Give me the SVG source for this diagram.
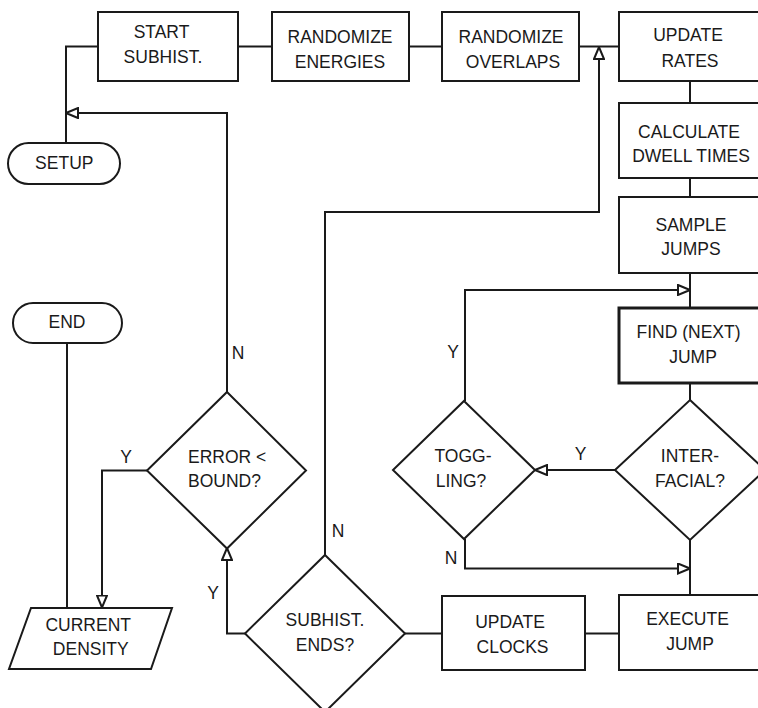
<svg xmlns="http://www.w3.org/2000/svg" width="758" height="708" viewBox="0 0 758 708">
<style>
.s{fill:#fff;stroke:#1a1a1a;stroke-width:2}
.b{stroke-width:3}
.c{fill:none;stroke:#1a1a1a;stroke-width:2}
text{font-family:"Liberation Sans",Arial,sans-serif;font-size:17.5px;fill:#1a1a1a}
.m{text-anchor:middle}
</style>
<defs>
<marker id="ah" viewBox="0 0 14 12" refX="13" refY="6" markerWidth="14" markerHeight="12" markerUnits="userSpaceOnUse" orient="auto">
<path d="M1,1 L13,6 L1,11 Z" fill="#fff" stroke="#1a1a1a" stroke-width="2" stroke-linejoin="miter"/>
</marker>
</defs>
<rect width="758" height="708" fill="#fff"/>
<g id="connectors">
<path class="c" d="M66,143 V46.5 H98"/>
<path class="c" d="M238,46.5 H272"/>
<path class="c" d="M409,46.5 H442"/>
<path class="c" d="M579,46.5 H619"/>
<path class="c" d="M690,81 V103"/>
<path class="c" d="M690,178 V197"/>
<path class="c" d="M690,273 V308"/>
<path class="c" d="M690,383 V400"/>
<path class="c" d="M690,540 V595"/>
<path class="c" d="M619,633.5 H585"/>
<path class="c" d="M442,633.5 H405"/>
<path class="c" d="M67,343 V608"/>
<path class="c" d="M227,392 V113 H66" marker-end="url(#ah)"/>
<path class="c" d="M325,555 V212 H599 V47" marker-end="url(#ah)"/>
<path class="c" d="M465,401 V290 H690" marker-end="url(#ah)"/>
<path class="c" d="M615,470 H535" marker-end="url(#ah)"/>
<path class="c" d="M465,539 V568.5 H690" marker-end="url(#ah)"/>
<path class="c" d="M245,633.5 H227 V548" marker-end="url(#ah)"/>
<path class="c" d="M147,470.5 H102 V607.5" marker-end="url(#ah)"/>
<text class="m" x="238" y="359">N</text>
<text class="m" x="126" y="462.5">Y</text>
<text class="m" x="338" y="537">N</text>
<text class="m" x="213" y="599">Y</text>
<text class="m" x="453" y="358">Y</text>
<text class="m" x="580.5" y="460">Y</text>
<text class="m" x="451" y="564">N</text>
</g>
<g id="start-subhist">
<rect class="s" x="98" y="12" width="140" height="69"/>
<text class="m" x="161.5" y="37.7">START</text>
<text class="m" x="163" y="63.3">SUBHIST.</text>
</g>
<g id="randomize-energies">
<rect class="s" x="272" y="12" width="137" height="69"/>
<text class="m" x="340" y="43.3">RANDOMIZE</text>
<text class="m" x="340" y="68.3">ENERGIES</text>
</g>
<g id="randomize-overlaps">
<rect class="s" x="442" y="12" width="137" height="69"/>
<text class="m" x="511" y="43.3">RANDOMIZE</text>
<text class="m" x="513" y="68.3">OVERLAPS</text>
</g>
<g id="update-rates">
<rect class="s" x="619" y="12" width="141" height="69"/>
<text class="m" x="688" y="40.7">UPDATE</text>
<text class="m" x="690" y="66.7">RATES</text>
</g>
<g id="calculate-dwell-times">
<rect class="s" x="619" y="103" width="141" height="75"/>
<text class="m" x="689" y="137.5">CALCULATE</text>
<text class="m" x="691" y="162">DWELL TIMES</text>
</g>
<g id="sample-jumps">
<rect class="s" x="619" y="197" width="141" height="76"/>
<text class="m" x="691" y="231">SAMPLE</text>
<text class="m" x="691" y="255">JUMPS</text>
</g>
<g id="find-next-jump">
<rect class="s b" x="619" y="308" width="141" height="75"/>
<text class="m" x="688.5" y="338">FIND (NEXT)</text>
<text class="m" x="693" y="362.5">JUMP</text>
</g>
<g id="interfacial">
<polygon class="s" points="690,400 765,470 690,540 615,470"/>
<text class="m" x="690" y="462.3">INTER-</text>
<text class="m" x="690" y="487.3">FACIAL?</text>
</g>
<g id="toggling">
<polygon class="s" points="464,401 535,470 464,539 393,470"/>
<text class="m" x="463" y="462.3">TOGG-</text>
<text class="m" x="461" y="487.3">LING?</text>
</g>
<g id="execute-jump">
<rect class="s" x="619" y="595" width="141" height="75"/>
<text class="m" x="687.5" y="624.5">EXECUTE</text>
<text class="m" x="690" y="649.5">JUMP</text>
</g>
<g id="update-clocks">
<rect class="s" x="442" y="596" width="143" height="74"/>
<text class="m" x="510" y="628.3">UPDATE</text>
<text class="m" x="512.5" y="653.3">CLOCKS</text>
</g>
<g id="subhist-ends">
<polygon class="s" points="325,555 405,633.5 325,712 245,633.5"/>
<text class="m" x="325" y="625.7">SUBHIST.</text>
<text class="m" x="325" y="650.7">ENDS?</text>
</g>
<g id="error-bound">
<polygon class="s" points="227,392 306,470.5 227,548.5 147,470.5"/>
<text x="188" y="462.7">ERROR &lt;</text>
<text x="188" y="487.3">BOUND?</text>
</g>
<g id="setup">
<rect class="s" x="8" y="143" width="112" height="41" rx="20.5"/>
<text class="m" x="64.3" y="169">SETUP</text>
</g>
<g id="end">
<rect class="s" x="13" y="303" width="109" height="40" rx="20"/>
<text class="m" x="67" y="328.3">END</text>
</g>
<g id="current-density">
<polygon class="s" points="31,608 172,608 151,669 9,669"/>
<text class="m" x="88.2" y="630.7">CURRENT</text>
<text class="m" x="90.8" y="655">DENSITY</text>
</g>
</svg>
